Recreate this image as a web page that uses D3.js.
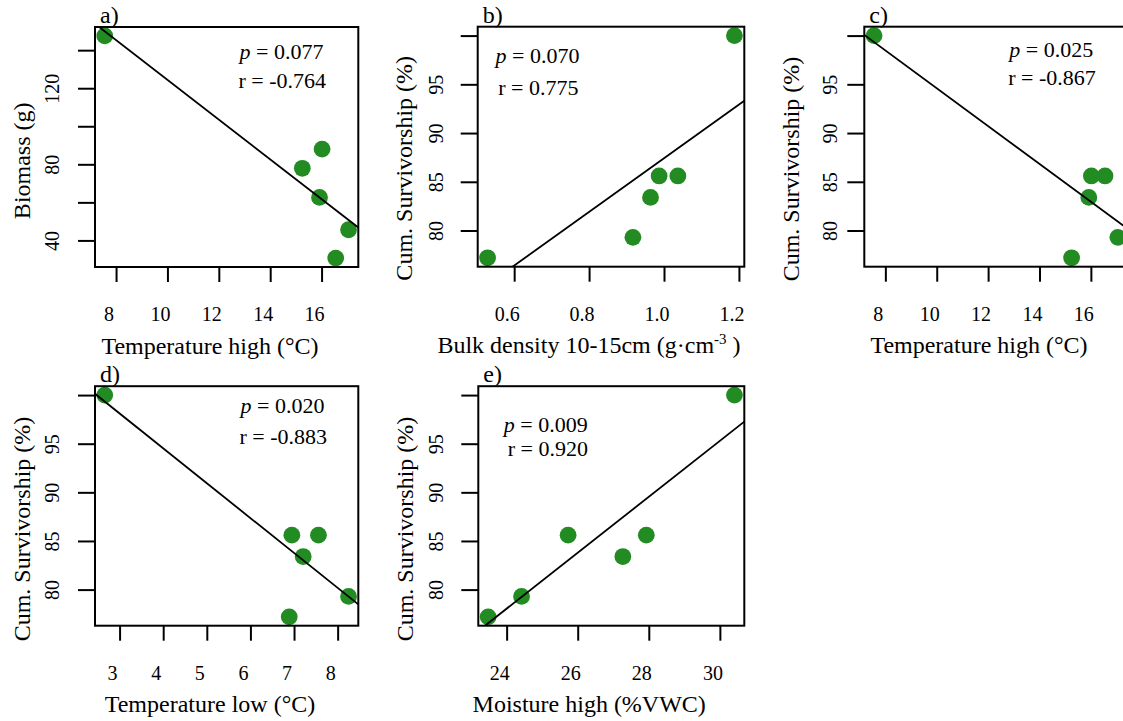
<!DOCTYPE html>
<html>
<head>
<meta charset="utf-8">
<script src="https://cdn.jsdelivr.net/npm/d3@7"></script>
<style>
  html, body { margin: 0; padding: 0; background: #fff; }
  svg { display: block; }
  svg text { font-family: "Liberation Serif", "Times New Roman", serif; fill: #000; }
</style>
</head>
<body>
<svg id="chart" width="1123" height="721"></svg>
<script>
// ---------------- data ----------------
const survivorship = [100, 85.6, 85.6, 83.4, 79.3, 77.2];
const biomass      = [147.5, 88.0, 30.7, 62.6, 45.6, 77.9];
const tempHigh     = [7.56, 16.02, 16.55, 15.92, 17.05, 15.25];
const bulkDensity  = [1.188, 0.987, 1.037, 0.964, 0.917, 0.529];
const tempLow      = [2.66, 6.95, 7.56, 7.21, 8.25, 6.89];
const moisture     = [30.41, 25.73, 27.93, 27.27, 24.42, 23.48];

const panelTags = ["a)", "b)", "c)", "d)", "e)"];
const xTitles = ["Temperature high (°C)", "Bulk density 10-15cm (g·cm", "Temperature high (°C)", "Temperature low (°C)", "Moisture high (%VWC)"];
const yTitles = ["Biomass (g)", "Cum. Survivorship (%)", "Cum. Survivorship (%)", "Cum. Survivorship (%)", "Cum. Survivorship (%)"];
const pValues = ["0.077", "0.070", "0.025", "0.020", "0.009"];
const rValues = ["-0.764", "0.775", "-0.867", "-0.883", "0.920"];
const fitIntercept = [228.9, 59.88, 114.0, 108.88, 9.04];
const fitSlope     = [-10.45, 27.54, -1.941, -3.588, 2.875];

const xTicksTemp  = [8, 10, 12, 14, 16];
const xTicksBulk  = [0.6, 0.8, 1.0, 1.2];
const xTicksLow   = [3, 4, 5, 6, 7, 8];
const xTicksMoist = [24, 26, 28, 30];
const yTicksBio   = [40, 60, 80, 100, 120, 140];
const yLabelsBio  = [40, 80, 120];
const yTicksSurv  = [80, 85, 90, 95, 100];
const yLabelsSurv = [80, 85, 90, 95];

// ---------------- layout (positions only) ----------------
const layout = [
  { left: 95,    top: 27,    w: 263.3, h: 240,   xTitleX: 210,   yTitleY: 160.8, yTickBase: 36.5, ann: [[281.5, 59.3], [282.3, 88.3]] },
  { left: 477.7, top: 26.7,  w: 266.6, h: 240,   xTitleX: 589,   yTitleY: 168.3, yTickBase: 34.5, ann: [[537.5, 63.3], [538.3, 95.3]] },
  { left: 864.3, top: 26.7,  w: 263.3, h: 240,   xTitleX: 979,   yTitleY: 169,   yTickBase: 27,   ann: [[1051.3, 56.7], [1052, 85]] },
  { left: 95,    top: 386.2, w: 263.3, h: 239.5, xTitleX: 210,   yTitleY: 529,   yTickBase: 35.7, ann: [[282.5, 413.3], [283.3, 444]] },
  { left: 478.3, top: 386.2, w: 266,   h: 239.5, xTitleX: 589.2, yTitleY: 529,   yTickBase: 35,   ann: [[545.8, 431.5], [547.8, 455.5]] }
];

const panels = [
  { x: tempHigh,    y: biomass,      xt: xTicksTemp,  xfmt: d3.format("d"),   yt: yTicksBio,  yl: yLabelsBio },
  { x: bulkDensity, y: survivorship, xt: xTicksBulk,  xfmt: d3.format(".1f"), yt: yTicksSurv, yl: yLabelsSurv },
  { x: tempHigh,    y: survivorship, xt: xTicksTemp,  xfmt: d3.format("d"),   yt: yTicksSurv, yl: yLabelsSurv },
  { x: tempLow,     y: survivorship, xt: xTicksLow,   xfmt: d3.format("d"),   yt: yTicksSurv, yl: yLabelsSurv },
  { x: moisture,    y: survivorship, xt: xTicksMoist, xfmt: d3.format("d"),   yt: yTicksSurv, yl: yLabelsSurv }
];

const svg = d3.select("#chart");
const GREEN = "#228B22";
const SERIF = "'Liberation Serif', 'Times New Roman', serif";

function padded(arr) {
  const [a, b] = d3.extent(arr);
  const p = (b - a) * 0.04;
  return [a - p, b + p];
}

panels.forEach((pn, i) => {
  const L = layout[i];
  const x = d3.scaleLinear().domain(padded(pn.x)).range([L.left, L.left + L.w]);
  const y = d3.scaleLinear().domain(padded(pn.y)).range([L.top + L.h, L.top]);
  const bottom = L.top + L.h;

  svg.append("clipPath").attr("id", "clip" + i)
    .append("rect").attr("x", L.left).attr("y", L.top).attr("width", L.w).attr("height", L.h);

  // x axis
  const xAxis = svg.append("g").attr("transform", `translate(0,${bottom})`)
    .call(d3.axisBottom(x).tickValues(pn.xt).tickSize(15).tickFormat(pn.xfmt))
    .attr("font-family", SERIF).attr("font-size", 20);
  xAxis.select(".domain").remove();
  xAxis.selectAll(".tick line").attr("stroke", "#000").attr("stroke-width", 2);
  xAxis.selectAll(".tick text")
    .attr("y", 54).attr("dy", null).attr("x", -7.5).attr("fill", "#000");

  // y axis
  const yAxis = svg.append("g").attr("transform", `translate(${L.left},0)`)
    .call(d3.axisLeft(y).tickValues(pn.yt).tickSize(17)
      .tickFormat(d => pn.yl.includes(d) ? d3.format("d")(d) : ""))
    .attr("font-family", SERIF).attr("font-size", 20);
  yAxis.select(".domain").remove();
  yAxis.selectAll(".tick line").attr("stroke", "#000").attr("stroke-width", 2);
  yAxis.selectAll(".tick text")
    .attr("x", null).attr("dy", null)
    .attr("transform", `translate(${-L.yTickBase},0) rotate(-90)`)
    .attr("text-anchor", "middle").attr("fill", "#000");

  // points
  svg.append("g").selectAll("circle")
    .data(pn.x.map((v, k) => [v, pn.y[k]]))
    .join("circle")
    .attr("cx", d => x(d[0])).attr("cy", d => y(d[1]))
    .attr("r", 8.4).attr("fill", GREEN);

  // fit line
  const [x0, x1] = x.domain();
  const fy = v => fitIntercept[i] + fitSlope[i] * v;
  svg.append("line")
    .attr("clip-path", `url(#clip${i})`)
    .attr("x1", x(x0)).attr("y1", y(fy(x0)))
    .attr("x2", x(x1)).attr("y2", y(fy(x1)))
    .attr("stroke", "#000").attr("stroke-width", 1.8);

  // box
  svg.append("rect").attr("x", L.left).attr("y", L.top).attr("width", L.w).attr("height", L.h)
    .attr("fill", "none").attr("stroke", "#000").attr("stroke-width", 2);

  // panel tag
  svg.append("text").attr("x", L.left + 5).attr("y", L.top - 4)
    .attr("font-size", 24).text(panelTags[i]);

  // x title
  const xt = svg.append("text").attr("x", L.xTitleX).attr("y", bottom + 86.5)
    .attr("text-anchor", "middle").attr("font-size", 24).text(xTitles[i]);
  if (i === 1) {
    xt.append("tspan").attr("dy", -9).attr("font-size", 15).text("-3");
    xt.append("tspan").attr("dy", 9).attr("font-size", 24).text(" )");
  }

  // y title
  svg.append("text")
    .attr("transform", `translate(${L.left - 65.5},${L.yTitleY}) rotate(-90)`)
    .attr("text-anchor", "middle").attr("font-size", 24).text(yTitles[i]);

  // annotations
  const pt = svg.append("text").attr("x", L.ann[0][0]).attr("y", L.ann[0][1])
    .attr("text-anchor", "middle").attr("font-size", 22);
  pt.append("tspan").attr("font-style", "italic").text("p");
  pt.append("tspan").text(" = " + pValues[i]);
  svg.append("text").attr("x", L.ann[1][0]).attr("y", L.ann[1][1])
    .attr("text-anchor", "middle").attr("font-size", 22)
    .text("r = " + rValues[i]);
});
</script>
</body>
</html>
